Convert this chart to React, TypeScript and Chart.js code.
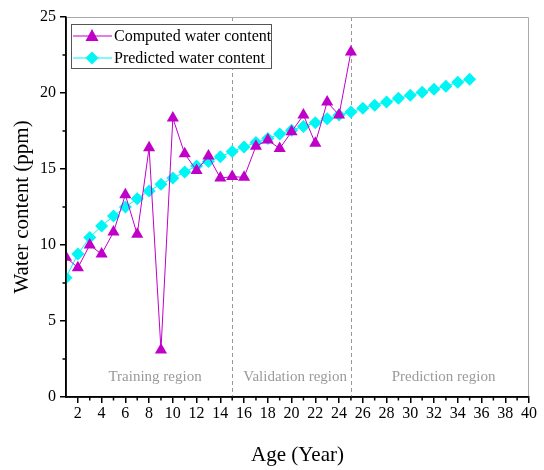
import React, { useEffect, useRef } from 'react';
import { Chart, registerables } from 'chart.js';
Chart.register(...registerables);

const computedAges = [1,2,3,4,5,6,7,8,9,10,11,12,13,14,15,16,17,18,19,20,21,22,23,24,25];
const computedValues = [9.2,8.5,10.0,9.4,10.85,13.3,10.7,16.4,3.1,18.35,16.0,14.9,15.85,14.4,14.5,14.45,16.5,16.9,16.35,17.45,18.55,16.7,19.4,18.55,22.7];
const predictedAges = [1,2,3,4,5,6,7,8,9,10,11,12,13,14,15,16,17,18,19,20,21,22,23,24,25,26,27,28,29,30,31,32,33,34,35];
const predictedValues = [7.85,9.4,10.5,11.25,11.9,12.5,13.05,13.55,14.0,14.4,14.8,15.2,15.5,15.8,16.15,16.45,16.75,17.0,17.3,17.55,17.8,18.05,18.3,18.55,18.75,19.0,19.2,19.4,19.65,19.85,20.05,20.25,20.45,20.7,20.9];
const xTickValues = [2,4,6,8,10,12,14,16,18,20,22,24,26,28,30,32,34,36,38,40];
const yTickValues = [0,5,10,15,20,25];
const regionBounds = [15, 25];
const regionLabels = [
  { text: 'Training region', x: 8.5 },
  { text: 'Validation region', x: 20.3 },
  { text: 'Prediction region', x: 32.8 },
];
const seriesNames = ['Computed water content', 'Predicted water content'];
const xTitle = 'Age (Year)';
const yTitle = 'Water content (ppm)';

const FONT = "'Liberation Serif', 'Times New Roman', serif";
const MAGENTA = '#C000C8';
const CYAN = '#00F5F5';

const decor = {
  id: 'decor',
  beforeDatasetsDraw(chart: any) {
    const { ctx, chartArea, scales } = chart;
    const xs = scales.x;
    ctx.save();
    ctx.strokeStyle = '#999999';
    ctx.lineWidth = 1;
    ctx.setLineDash([4, 3]);
    regionBounds.forEach((b) => {
      const px = Math.round(xs.getPixelForValue(b)) + 0.5;
      ctx.beginPath();
      ctx.moveTo(px, chartArea.top);
      ctx.lineTo(px, chartArea.bottom);
      ctx.stroke();
    });
    ctx.setLineDash([]);
    ctx.fillStyle = '#9a9a9a';
    ctx.font = `15px ${FONT}`;
    ctx.textAlign = 'center';
    ctx.textBaseline = 'middle';
    regionLabels.forEach((r) => {
      ctx.fillText(r.text, xs.getPixelForValue(r.x), chartArea.bottom - 20);
    });
    ctx.restore();
  },
  afterDraw(chart: any) {
    const { ctx, chartArea, scales } = chart;
    const xs = scales.x;
    const ys = scales.y;
    ctx.save();
    // top/right border
    ctx.strokeStyle = '#aaaaaa';
    ctx.lineWidth = 1;
    ctx.beginPath();
    ctx.moveTo(chartArea.left, chartArea.top + 0.5);
    ctx.lineTo(chartArea.right - 0.5, chartArea.top + 0.5);
    ctx.lineTo(chartArea.right - 0.5, chartArea.bottom);
    ctx.stroke();
    // left/bottom axis lines redrawn over clipped markers
    ctx.strokeStyle = '#000';
    ctx.lineWidth = 1.5;
    ctx.beginPath();
    ctx.moveTo(chartArea.left, chartArea.top);
    ctx.lineTo(chartArea.left, chartArea.bottom);
    ctx.lineTo(chartArea.right, chartArea.bottom);
    ctx.stroke();
    // minor ticks
    for (let v = 3; v < 40; v += 2) {
      const px = xs.getPixelForValue(v);
      ctx.beginPath();
      ctx.moveTo(px, chartArea.bottom);
      ctx.lineTo(px, chartArea.bottom + 3.5);
      ctx.stroke();
    }
    for (let v = 2.5; v < 25; v += 5) {
      const py = ys.getPixelForValue(v);
      ctx.beginPath();
      ctx.moveTo(chartArea.left, py);
      ctx.lineTo(chartArea.left - 3.5, py);
      ctx.stroke();
    }
    // axis titles
    ctx.fillStyle = '#000';
    ctx.font = `21px ${FONT}`;
    ctx.textAlign = 'center';
    ctx.textBaseline = 'middle';
    ctx.fillText(xTitle, (chartArea.left + chartArea.right) / 2, 455);
    ctx.save();
    ctx.translate(22, (chartArea.top + chartArea.bottom) / 2);
    ctx.rotate(-Math.PI / 2);
    ctx.fillText(yTitle, 0, 0);
    ctx.restore();
    // legend
    const lx = 71, ly = 24, lw = 200, lh = 44;
    ctx.fillStyle = '#fff';
    ctx.fillRect(lx, ly, lw, lh);
    ctx.strokeStyle = '#555';
    ctx.lineWidth = 1;
    ctx.strokeRect(lx + 0.5, ly + 0.5, lw, lh);
    const rows = [
      { y: 36, color: MAGENTA, shape: 'tri' },
      { y: 58, color: CYAN, shape: 'dia' },
    ];
    rows.forEach((r, i) => {
      ctx.strokeStyle = r.color;
      ctx.lineWidth = 1;
      ctx.beginPath();
      ctx.moveTo(73, r.y);
      ctx.lineTo(112, r.y);
      ctx.stroke();
      ctx.fillStyle = r.color;
      ctx.beginPath();
      if (r.shape === 'tri') {
        ctx.moveTo(92, r.y - 7);
        ctx.lineTo(98.5, r.y + 5);
        ctx.lineTo(85.5, r.y + 5);
      } else {
        ctx.moveTo(92, r.y - 6.5);
        ctx.lineTo(98.5, r.y);
        ctx.lineTo(92, r.y + 6.5);
        ctx.lineTo(85.5, r.y);
      }
      ctx.closePath();
      ctx.fill();
      ctx.fillStyle = '#000';
      ctx.font = `16px ${FONT}`;
      ctx.textAlign = 'left';
      ctx.textBaseline = 'middle';
      ctx.fillText(seriesNames[i], 114, r.y + 1);
    });
    ctx.restore();
  },
};

export default function App() {
  const ref = useRef<HTMLCanvasElement>(null);
  useEffect(() => {
    document.body.style.margin = '0';
    const canvas = ref.current!;
    const chart = new Chart(canvas, {
      type: 'line',
      data: {
        datasets: [
          {
            label: seriesNames[0],
            data: computedAges.map((a, i) => ({ x: a, y: computedValues[i] })),
            borderColor: MAGENTA,
            backgroundColor: MAGENTA,
            borderWidth: 1,
            pointStyle: 'triangle',
            pointRadius: 7,
            pointBorderWidth: 0,
            clip: { left: 0, top: 10, right: 10, bottom: 10 },
            order: 1,
          },
          {
            label: seriesNames[1],
            data: predictedAges.map((a, i) => ({ x: a, y: predictedValues[i] })),
            borderColor: CYAN,
            backgroundColor: CYAN,
            borderWidth: 1,
            pointStyle: 'rectRot',
            pointRadius: 6.5,
            pointBorderWidth: 0,
            clip: { left: 0, top: 10, right: 10, bottom: 10 },
            order: 2,
          },
        ],
      },
      options: {
        responsive: false,
        animation: false,
        layout: { padding: { top: 17, right: 15, left: 0, bottom: 0 } },
        plugins: { legend: { display: false }, tooltip: { enabled: false } },
        scales: {
          x: {
            type: 'linear',
            min: 1,
            max: 40,
            afterBuildTicks: (s: any) => { s.ticks = xTickValues.map((v) => ({ value: v })); },
            afterFit: (s: any) => { s.height = 73; },
            grid: { drawOnChartArea: false, drawTicks: true, tickLength: 6, color: '#000', lineWidth: 1.5 },
            border: { display: true, color: '#000', width: 1.5 },
            ticks: { color: '#000', font: { family: FONT, size: 16 }, padding: 1, maxRotation: 0, autoSkip: false },
          },
          y: {
            type: 'linear',
            min: 0,
            max: 25,
            afterBuildTicks: (s: any) => { s.ticks = yTickValues.map((v) => ({ value: v })); },
            afterFit: (s: any) => { s.width = 66; },
            grid: { drawOnChartArea: false, drawTicks: true, tickLength: 6, color: '#000', lineWidth: 1.5 },
            border: { display: true, color: '#000', width: 1.5 },
            ticks: { color: '#000', font: { family: FONT, size: 16 }, padding: 4 },
          },
        },
      },
      plugins: [decor],
    });
    return () => chart.destroy();
  }, []);
  return <canvas ref={ref} width={544} height={470} style={{ display: 'block' }} />;
}
